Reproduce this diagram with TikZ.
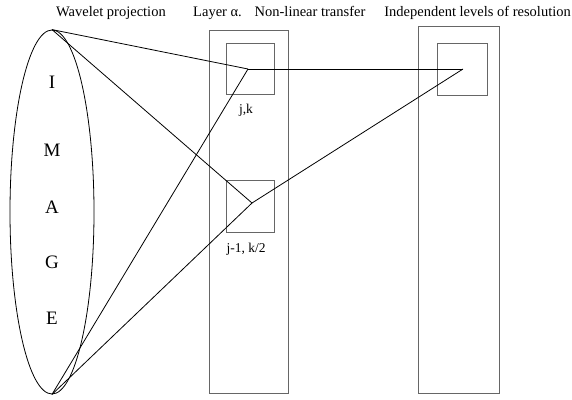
\documentclass[tikz,border=0pt]{standalone}
\usepackage{fontspec}
\setmainfont{Liberation Serif}
\usetikzlibrary{positioning,shapes.geometric}

\begin{document}
\begin{tikzpicture}[x=1pt, y=-1pt, node distance=3pt,
  every node/.style={inner sep=0pt},
  title/.style={font=\fontsize{14.5}{16}\selectfont, anchor=west},
  letter/.style={font=\fontsize{19}{21}\selectfont},
  tag/.style={font=\fontsize{13.5}{15}\selectfont},
  box/.style={draw=black!60, line width=0.9pt},
  ray/.style={draw=black, line width=0.8pt}]
\useasboundingbox (0,0) rectangle (572,399);
% headings
\node[title] (tproj) at (56,13) {Wavelet projection};
\node[title] (tlayer) at (193,13) {Layer α.\hspace{8pt} Non-linear transfer};
\node[title, anchor=east] (tlevels) at (571,13) {Independent levels of resolution};
% image
\node[ellipse, draw, line width=0.8pt, minimum width=84pt, minimum height=364pt] (img) at (52,212) {};
\node[letter] (li) at (52,82) {I};
\node[letter] (lm) at (52,150) {M};
\node[letter] (la) at (52,207) {A};
\node[letter] (lg) at (52,262) {G};
\node[letter] (le) at (52,318) {E};
% layer and resolution columns
\node[box, minimum width=79pt, minimum height=363pt] (layer) at (248.5,211.5) {};
\node[box, minimum width=81pt, minimum height=367pt] (levels) at (458.5,209.5) {};
\node[box, minimum width=48pt, minimum height=51pt] (cellA) at (250,68.5) {};
\node[box, minimum width=48pt, minimum height=52pt] (cellB) at (250,206) {};
\node[box, minimum width=50pt, minimum height=52pt] (cellC) at (462,69) {};
\node[tag, below=9pt of cellA, xshift=-4pt] (labA) {j,k};
\node[tag, below=10pt of cellB, xshift=-4pt] (labB) {j-1, k/2};
\coordinate (pA) at (248,69);
\coordinate (pB) at (252,203);
\coordinate (pC) at (463,69);
% projections
\draw[ray] (img.north) -- (pA);
\draw[ray] (img.north) -- (pB);
\draw[ray] (img.south) -- (pA);
\draw[ray] (img.south) -- (pB);
\draw[ray] (pA) -- (pC);
\draw[ray] (pB) -- (pC);
\end{tikzpicture}
\end{document}
